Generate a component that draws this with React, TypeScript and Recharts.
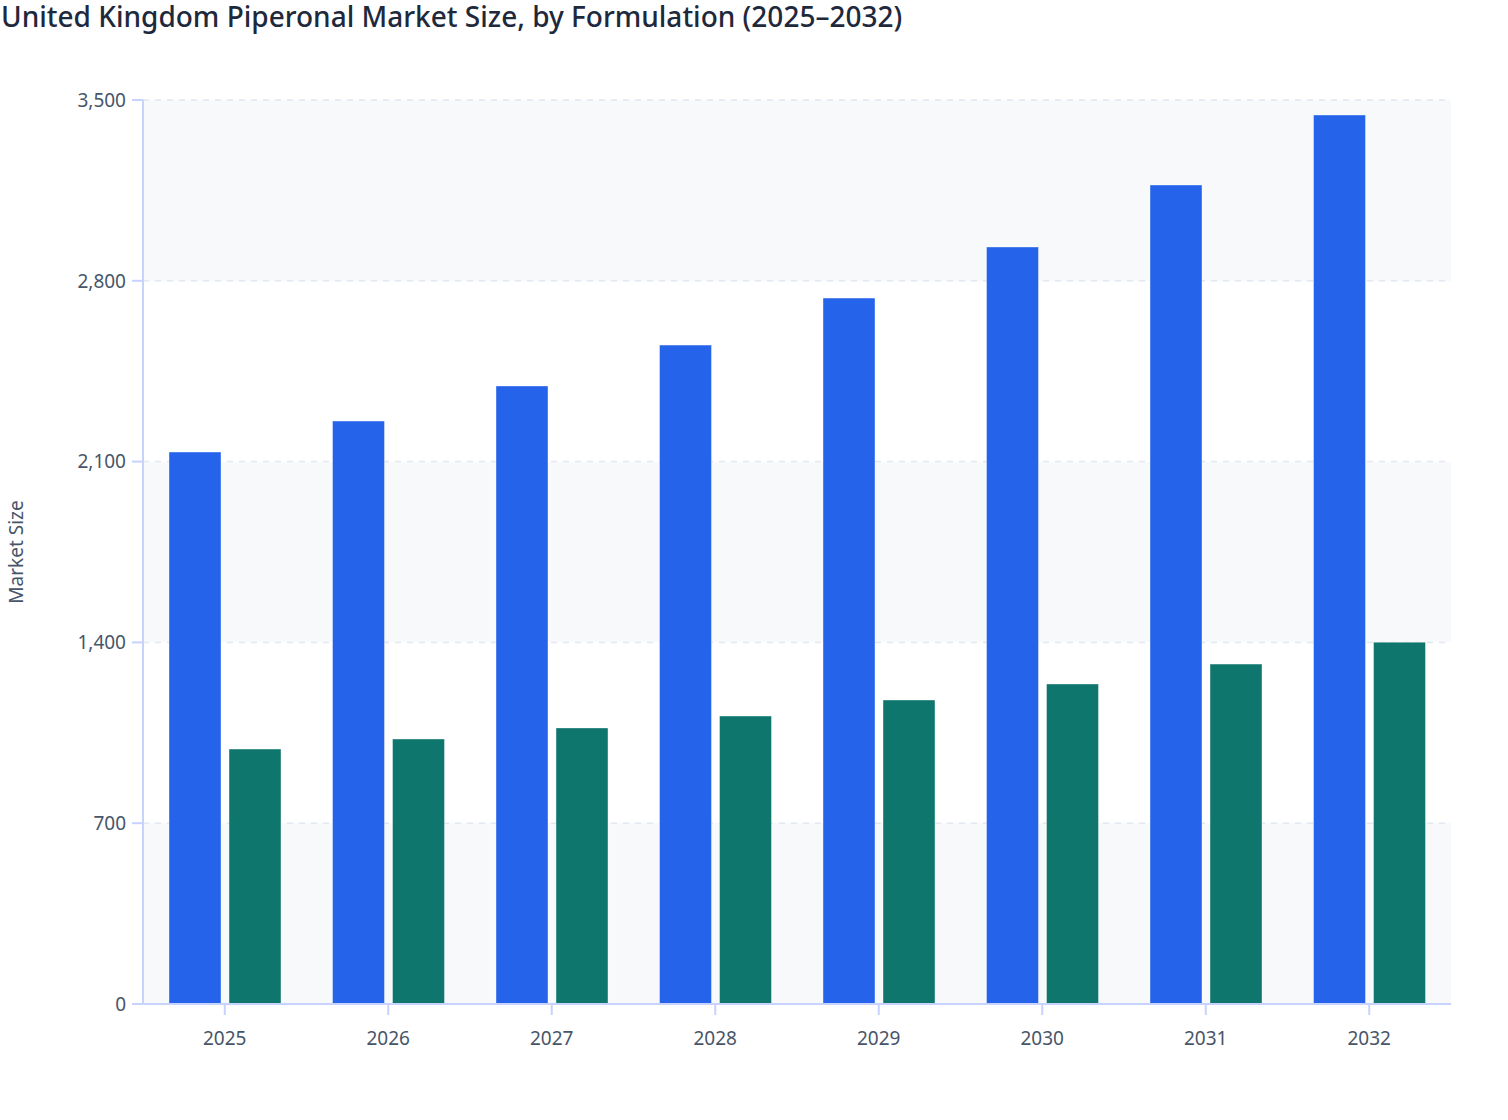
import React from "react";
import { BarChart, Bar, XAxis, YAxis, CartesianGrid } from "recharts";

const years = ["2025", "2026", "2027", "2028", "2029", "2030", "2031", "2032"];
const liquidValues = [2137, 2257, 2393, 2551, 2733, 2931, 3171, 3442];
const powderValues = [987, 1026, 1069, 1115, 1177, 1239, 1316, 1401];
const yTicks = [0, 700, 1400, 2100, 2800, 3500];

const data = years.map((year, i) => ({
  year,
  liquid: liquidValues[i],
  powder: powderValues[i],
}));

const FONT = '"Noto Sans", "Open Sans", sans-serif';
const TICK = { fontSize: 19, fill: "#475569", fontFamily: FONT };
const AXIS = "#c7d2fe";

export default function App() {
  return (
    <div style={{ position: "absolute", left: 0, top: 0, width: 1508, height: 1120, background: "#fff" }}>
      <div
        style={{
          position: "absolute",
          left: 1,
          top: -3,
          fontFamily: FONT,
          fontSize: 28,
          fontWeight: 500,
          color: "#1e293b",
          whiteSpace: "nowrap",
        }}
      >
        United Kingdom Piperonal Market Size, by Formulation (2025–2032)
      </div>
      <BarChart
        width={1508}
        height={1120}
        data={data}
        margin={{ top: 100, right: 57, bottom: 56, left: 13 }}
        barGap={8}
        barSize={52}
      >
        <CartesianGrid
          vertical={false}
          strokeDasharray="6 6"
          stroke="#e2e8f0"
          strokeWidth={1.5}
          horizontalFill={["#f8f9fb", "#ffffff"]}
        />
        <XAxis
          dataKey="year"
          height={60}
          tick={TICK}
          tickSize={11}
          tickMargin={17}
          axisLine={{ stroke: AXIS, strokeWidth: 2 }}
          tickLine={{ stroke: AXIS, strokeWidth: 2 }}
        />
        <YAxis
          width={130}
          domain={[0, 3500]}
          ticks={yTicks}
          interval={0}
          tick={TICK}
          tickSize={11}
          tickMargin={6}
          tickFormatter={(v) => Number(v).toLocaleString("en-US")}
          axisLine={{ stroke: AXIS, strokeWidth: 2 }}
          tickLine={{ stroke: AXIS, strokeWidth: 2 }}
          label={{
            value: "Market Size",
            angle: -90,
            position: "insideLeft",
            offset: 3,
            style: { fontSize: 19, fill: "#475569", fontFamily: FONT, textAnchor: "middle" },
          }}
        />
        <Bar
          dataKey="liquid"
          fill="#2563eb"
          stroke="#ffffff"
          strokeOpacity={0.4}
          strokeWidth={1}
          isAnimationActive={false}
        />
        <Bar
          dataKey="powder"
          fill="#0f766e"
          stroke="#ffffff"
          strokeOpacity={0.4}
          strokeWidth={1}
          isAnimationActive={false}
        />
      </BarChart>
    </div>
  );
}
